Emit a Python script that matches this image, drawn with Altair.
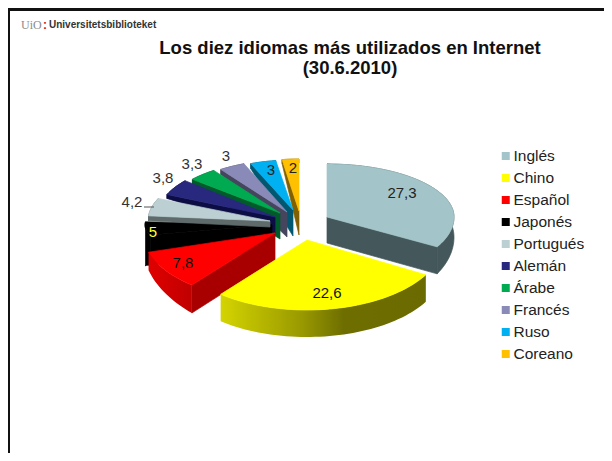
import math
import altair as alt
import pandas as pd

names = ["Inglés", "Chino", "Español", "Japonés", "Portugués", "Alemán", "Árabe", "Francés", "Ruso", "Coreano"]
values = [27.3, 22.6, 7.8, 5, 4.2, 3.8, 3.3, 3, 3, 2]
labels = ["27,3", "22,6", "7,8", "5", "4,2", "3,8", "3,3", "3", "3", "2"]
top_colors = ["#A3C5C9", "#FFFF00", "#FF0000", "#000000", "#BCD0D3", "#28287E", "#00AA50", "#8A8AB8", "#00B0F0", "#FFC000"]
side_colors = ["#44575A", "#A8A800", "#A80000", "#000000", "#5F6A6B", "#0D0D45", "#005A2A", "#45455E", "#005870", "#806000"]
label_colors = ["#222222", "#111111", "#111111", "#FFFF33", "#333333", "#333333", "#333333", "#333333", "#222222", "#222222"]

# perspective geometry of each exploded slice (page pixels)
# cx, cy, rx, ry_back, ry_front, rim depth at start, rim depth at end, apex depth, side whose straight wall shows
geometry = [
    (327, 217, 127, 53, 60, 0, 27, 26, "end"),
    (307, 240, 137, 60, 70, 27, 27, 27, "none"),
    (275, 233, 132, 67, 67, 28, 18, 27, "start"),
    (272, 225, 127, 35, 35, 30, 44, 25, "start"),
    (270, 221, 122, 56, 56, 5, 5, 6, "start"),
    (275, 217, 118, 56, 56, 4, 4, 16, "start"),
    (280, 213, 115, 52, 52, 5, 5, 26, "start"),
    (287, 212, 115, 52, 52, 5, 5, 25, "start"),
    (293, 210, 113, 50, 50, 5, 5, 26, "start"),
    (299, 211, 111, 52, 52, 4, 4, 24, "start"),
]
label_pos = [(402, 193), (327, 293), (183, 263), (153, 232), (132, 202), (163, 178), (192, 164), (226, 156), (271, 170), (293, 168)]
paint_order = [9, 8, 7, 6, 5, 3, 4, 2, 0, 1]

W, H = 596, 445
X = alt.X("x:Q", scale=alt.Scale(domain=[8, 8 + W], nice=False, zero=False), axis=None)
Y = alt.Y("y:Q", scale=alt.Scale(domain=[8, 8 + H], reverse=True, nice=False, zero=False), axis=None)


def stops(*pairs):
    return alt.LinearGradient(
        gradient="linear", x1=0, x2=1, y1=0, y2=0,
        stops=[alt.GradientStop(offset=o, color=c) for o, c in pairs],
    )


def face(points, fill):
    df = pd.DataFrame([{"x": p[0], "y": p[1], "i": k} for k, p in enumerate(points + [points[0]])])
    if isinstance(fill, str):
        mark = alt.Chart(df).mark_line(fill=fill, stroke=fill, strokeWidth=0.7, interpolate="linear", clip=True)
    else:
        mark = alt.Chart(df).mark_line(fill=fill, stroke=None, interpolate="linear", clip=True)
    return mark.encode(x=X, y=Y, order="i:Q")


total = sum(values)
layers = []
starts = []
acc = 0.0
for v in values:
    starts.append(acc)
    acc += v


def point(g, deg, drop=0.0):
    a = math.radians(deg)
    ry = g[3] if math.cos(a) > 0 else g[4]
    return (g[0] + g[2] * math.sin(a), g[1] - ry * math.cos(a) + drop)


for idx in paint_order:
    g = geometry[idx]
    a0 = starts[idx] / total * 360
    a1 = (starts[idx] + values[idx]) / total * 360
    steps = max(3, int((a1 - a0) / 2))
    arc_angles = [a0 + (a1 - a0) * k / steps for k in range(steps + 1)]
    rim_top = [point(g, a) for a in arc_angles]
    rim_low = [point(g, a0 + (a1 - a0) * k / steps, g[5] + (g[6] - g[5]) * k / steps) for k in range(steps + 1)]
    apex = (g[0], g[1])
    apex_low = (g[0], g[1] + g[7])
    if g[8] != "none":
        edge, depth = (a0, g[5]) if g[8] == "start" else (a1, g[6])
        layers.append(face([apex, point(g, edge), point(g, edge, depth), apex_low], side_colors[idx]))
    rim_fill = side_colors[idx]
    if names[idx] == "Chino":
        rim_fill = stops((0, "#D4D400"), (0.39, "#9A9A00"), (0.6, "#6E6E00"), (1, "#6A6A00"))
    if names[idx] == "Español":
        rim_fill = stops((0, "#E00000"), (1, "#C00000"))
    layers.append(face(rim_top + rim_low[::-1], rim_fill))
    layers.append(face([apex] + rim_top, top_colors[idx]))

# leader line of the 4,2 label, and slide frame
leader = pd.DataFrame({"x": [144], "x2": [154], "y": [207]})
layers.append(alt.Chart(leader).mark_rule(color="#555555", strokeWidth=1).encode(x=X, x2="x2:Q", y=Y))
layers.append(alt.Chart(pd.DataFrame({"a": [0]})).mark_rule(color="#111111", strokeWidth=3).encode(
    x=alt.value(0), x2=alt.value(W), y=alt.value(1.5)))
layers.append(alt.Chart(pd.DataFrame({"a": [0]})).mark_rule(color="#111111", strokeWidth=2).encode(
    y=alt.value(0), y2=alt.value(H), x=alt.value(1)))

label_df = pd.DataFrame({
    "x": [p[0] for p in label_pos], "y": [p[1] for p in label_pos],
    "t": labels, "c": label_colors,
})
layers.append(alt.Chart(label_df).mark_text(font="Liberation Sans", fontSize=15, align="center", baseline="middle").encode(
    x=X, y=Y, text="t:N", color=alt.Color("c:N", scale=None)))

title_df = pd.DataFrame({"x": [350, 350], "y": [48, 68], "t": ["Los diez idiomas más utilizados en Internet", "(30.6.2010)"]})
layers.append(alt.Chart(title_df).mark_text(font="Liberation Sans", fontSize=18.5, fontWeight="bold", color="#111111", align="center", baseline="middle").encode(
    x=X, y=Y, text="t:N"))

logo_df = pd.DataFrame({
    "x": [21, 43, 49], "y": [25, 25, 25], "t": ["UiO", ":", "Universitetsbiblioteket"],
    "c": ["#8A8A8A", "#D01020", "#333333"], "w": ["normal", "bold", "bold"],
})
layers.append(alt.Chart(logo_df[logo_df.w == "normal"]).mark_text(font="Liberation Serif", fontSize=12, align="left", baseline="middle", color="#8A8A8A").encode(x=X, y=Y, text="t:N"))
layers.append(alt.Chart(logo_df[logo_df.t == ":"]).mark_text(font="Liberation Sans", fontSize=12, fontWeight="bold", align="left", baseline="middle", color="#D01020").encode(x=X, y=Y, text="t:N"))
layers.append(alt.Chart(logo_df[logo_df.c == "#333333"]).mark_text(font="Liberation Sans", fontSize=10, fontWeight="bold", align="left", baseline="middle", color="#333333").encode(x=X, y=Y, text="t:N"))

legend_df = pd.DataFrame({"name": names, "x": [300] * 10, "y": [200] * 10})
layers.append(alt.Chart(legend_df).mark_square(size=0).encode(
    x=X, y=Y,
    color=alt.Color("name:N", sort=names, scale=alt.Scale(domain=names, range=top_colors), legend=alt.Legend(
        title=None, orient="none", legendX=490, legendY=140, symbolType="square", symbolSize=64,
        symbolStrokeWidth=0, symbolOpacity=1, labelFont="Liberation Sans", labelFontSize=15.5, labelColor="#222222",
        rowPadding=5, labelOffset=0, clipHeight=16)),
))

chart = alt.layer(*layers).resolve_scale(color="independent").properties(
    width=W, height=H, padding=0, background="white",
    autosize=alt.AutoSizeParams(type="none"),
).configure_view(stroke=None)

chart.save("out.html", embed_options={"renderer": "svg", "actions": False})
